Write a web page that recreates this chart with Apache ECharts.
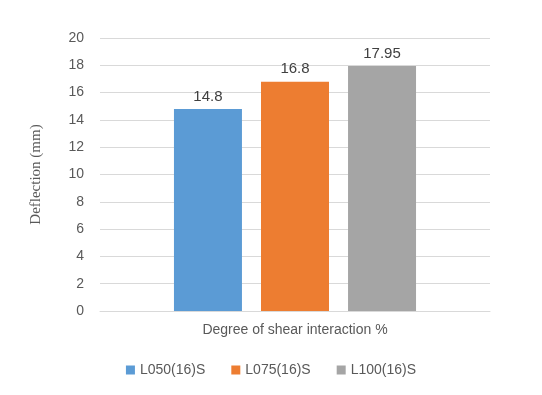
<!DOCTYPE html>
<html><head><meta charset="utf-8">
<script src="https://cdn.jsdelivr.net/npm/echarts@6/dist/echarts.min.js"></script>
<style>html,body{margin:0;padding:0;background:#fff}#c{width:542px;height:395px}</style>
</head><body><div id="c"></div>
<script>
const categories = ['Degree of shear interaction %'];
const seriesNames = ['L050(16)S', 'L075(16)S', 'L100(16)S'];
const seriesValues = [[14.8], [16.8], [17.95]];
const colors = ['#5b9bd5', '#ed7d31', '#a5a5a5'];
const font = 'Liberation Sans, Arial, sans-serif';
const chart = echarts.init(document.getElementById('c'));
chart.setOption({
  animation: false,
  color: colors,
  grid: {left: 100, right: 52, top: 38, bottom: 84},
  legend: {
    bottom: 13, left: 'center', itemWidth: 9, itemHeight: 9, itemGap: 26, icon: 'rect',
    textStyle: {fontFamily: font, fontSize: 14, color: '#595959'},
    data: seriesNames
  },
  xAxis: {
    type: 'category', data: categories,
    axisLabel: {show: false}, axisTick: {show: false},
    axisLine: {lineStyle: {color: '#d9d9d9'}},
    name: 'Degree of shear interaction %', nameLocation: 'middle', nameGap: 12,
    nameTextStyle: {fontFamily: font, fontSize: 14, color: '#595959'}
  },
  yAxis: {
    type: 'value', min: 0, max: 20, interval: 2,
    axisLine: {show: false}, axisTick: {show: false},
    axisLabel: {fontFamily: font, fontSize: 14, color: '#595959', margin: 16},
    splitLine: {lineStyle: {color: '#d9d9d9'}},
    name: 'Deflection (mm)', nameLocation: 'middle', nameGap: 56, nameRotate: 90,
    nameTextStyle: {fontFamily: 'Liberation Serif, Times New Roman, serif', fontSize: 15, color: '#595959'}
  },
  series: seriesNames.map((n, i) => ({
    name: n, type: 'bar', data: seriesValues[i], barWidth: 68, barGap: '28%',
    label: {show: true, position: 'top', distance: 5, fontFamily: font, fontSize: 15, color: '#404040'}
  }))
});
</script></body></html>
